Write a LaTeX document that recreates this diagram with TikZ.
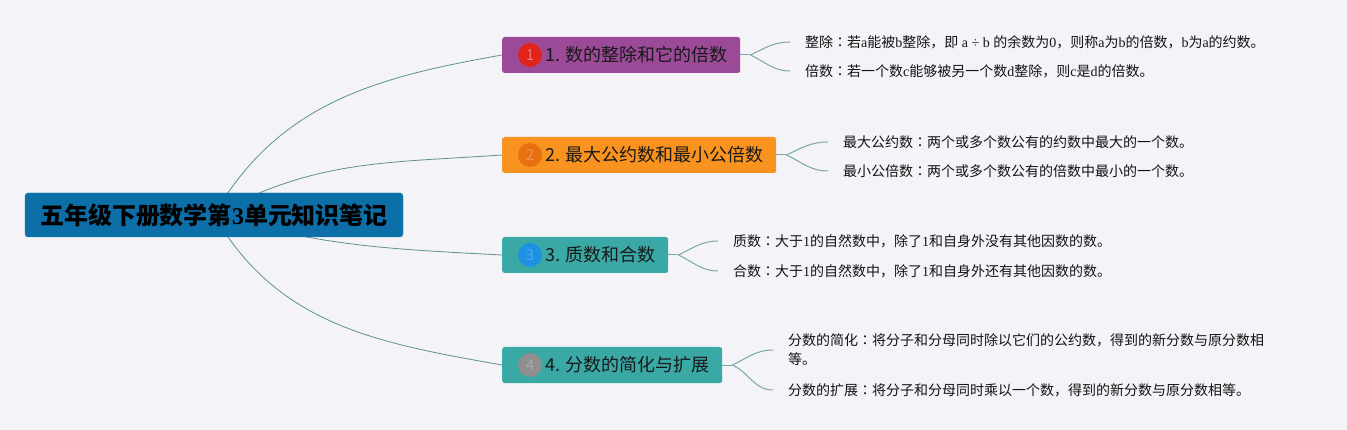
\documentclass[tikz,border=0pt]{standalone}
\usepackage{fontspec}
\setmainfont{Noto Sans CJK SC}
\newfontfamily\lat{Liberation Serif}
\newfontfamily\jpf{Noto Sans CJK JP}
\newcommand\ltn[1]{{\lat #1}}
\newcommand\cln{{\jpf ：}}
\definecolor{bgc}{RGB}{243,243,248}
\definecolor{rootc}{RGB}{13,111,168}
\definecolor{rootd}{RGB}{40,128,185}
\definecolor{b1c}{RGB}{155,74,152}
\definecolor{b2c}{RGB}{247,147,30}
\definecolor{b3c}{RGB}{58,168,165}
\definecolor{n1c}{RGB}{226,35,26}
\definecolor{n1t}{RGB}{240,120,112}
\definecolor{n2c}{RGB}{232,111,18}
\definecolor{n2t}{RGB}{240,150,80}
\definecolor{n3c}{RGB}{31,145,227}
\definecolor{n3t}{RGB}{79,169,236}
\definecolor{n4c}{RGB}{143,143,143}
\definecolor{n4t}{RGB}{169,169,169}
\definecolor{connc}{RGB}{94,145,140}
\definecolor{lconnc}{RGB}{123,167,163}
\pgfdeclarelayer{bg}
\pgfsetlayers{bg,main}
\begin{document}
\begin{tikzpicture}[x=1pt,y=1pt,
 rootbox/.style={draw=rootd, fill=rootc, rounded corners=3pt, minimum width=378pt, minimum height=44pt, font=\fontsize{24}{29}\selectfont\bfseries, text=black, inner sep=0pt},
 brbox/.style={rounded corners=2.5pt, minimum height=36pt, inner sep=0pt, anchor=west},
 brtext/.style={font=\fontsize{18}{22}\selectfont, text=black!90, anchor=west, inner sep=0pt},
 numc/.style={circle, minimum size=24pt, inner sep=0pt, font=\fontsize{15}{15}\selectfont},
 leaf/.style={anchor=west, inner xsep=15pt, inner ysep=2pt, font=\fontsize{14}{19}\selectfont, text=black!92, align=left},
 conn/.style={draw=connc, line width=0.8pt},
 lconn/.style={draw=lconnc, line width=1pt}]
\useasboundingbox (0,0) rectangle (1347,-430);

% root
\node[rootbox] (root) at (214,-215) {五年级下册数学第\ltn{3}单元知识笔记};

% branches
\node[brbox, fill=b1c, minimum width=238pt] (b1) at (502,-55) {};
\node[numc, fill=n1c, text=n1t] (n1) at (530,-55) {1};
\node[brtext] (t1) at (545,-55) {1. 数的整除和它的倍数};

\node[brbox, fill=b2c, minimum width=274pt] (b2) at (502,-155) {};
\node[numc, fill=n2c, text=n2t] (n2) at (530,-155) {2};
\node[brtext] (t2) at (545,-155) {2. 最大公约数和最小公倍数};

\node[brbox, fill=b3c, minimum width=166pt] (b3) at (502,-255) {};
\node[numc, fill=n3c, text=n3t] (n3) at (530,-255) {3};
\node[brtext] (t3) at (545,-255) {3. 质数和合数};

\node[brbox, fill=b3c, minimum width=220pt] (b4) at (502,-365) {};
\node[numc, fill=n4c, text=n4t] (n4) at (530,-365) {4};
\node[brtext] (t4) at (545,-365) {4. 分数的简化与扩展};

% leaves
\node[leaf] (l1a) at (790,-42) {整除\cln 若\ltn{a}能被\ltn{b}整除，即\ltn{~a ÷ b~}的余数为\ltn{0}，则称\ltn{a}为\ltn{b}的倍数，\ltn{b}为\ltn{a}的约数。};
\node[leaf] (l1b) at (790,-71) {倍数\cln 若一个数\ltn{c}能够被另一个数\ltn{d}整除，则\ltn{c}是\ltn{d}的倍数。};
\node[leaf] (l2a) at (828,-142) {最大公约数\cln 两个或多个数公有的约数中最大的一个数。};
\node[leaf] (l2b) at (828,-171) {最小公倍数\cln 两个或多个数公有的倍数中最小的一个数。};
\node[leaf] (l3a) at (718,-241) {质数\cln 大于\ltn{1}的自然数中，除了\ltn{1}和自身外没有其他因数的数。};
\node[leaf] (l3b) at (718,-271) {合数\cln 大于\ltn{1}的自然数中，除了\ltn{1}和自身外还有其他因数的数。};
\node[leaf] (l4a) at (773,-350) {分数的简化\cln 将分子和分母同时除以它们的公约数，得到的新分数与原分数相\\等。};
\node[leaf] (l4b) at (773,-390) {分数的扩展\cln 将分子和分母同时乘以一个数，得到的新分数与原分数相等。};

\begin{pgfonlayer}{bg}
\fill[bgc] (0,0) rectangle (1347,-430);
\draw[conn] (root.center) to[out=60,in=190] (b1.west);
\draw[conn] (root.center) to[out=29,in=184] (b2.west);
\draw[conn] (root.center) to[out=-16,in=177] (b3.west);
\draw[conn] (root.center) to[out=-60,in=170] (b4.west);

\draw[lconn] (b1.east) -- ++(10,0) coordinate (f1);
\draw[lconn] (f1) to[out=25,in=180] (l1a.west);
\draw[lconn] (f1) to[out=-25,in=180] (l1b.west);
\draw[lconn] (b2.east) -- ++(10,0) coordinate (f2);
\draw[lconn] (f2) to[out=25,in=180] (l2a.west);
\draw[lconn] (f2) to[out=-25,in=180] (l2b.west);
\draw[lconn] (b3.east) -- ++(10,0) coordinate (f3);
\draw[lconn] (f3) to[out=25,in=180] (l3a.west);
\draw[lconn] (f3) to[out=-25,in=180] (l3b.west);
\draw[lconn] (b4.east) -- ++(10,0) coordinate (f4);
\draw[lconn] (f4) to[out=25,in=180] (l4a.west);
\draw[lconn] (f4) to[out=-25,in=180] (l4b.west);
\end{pgfonlayer}
\end{tikzpicture}
\end{document}
